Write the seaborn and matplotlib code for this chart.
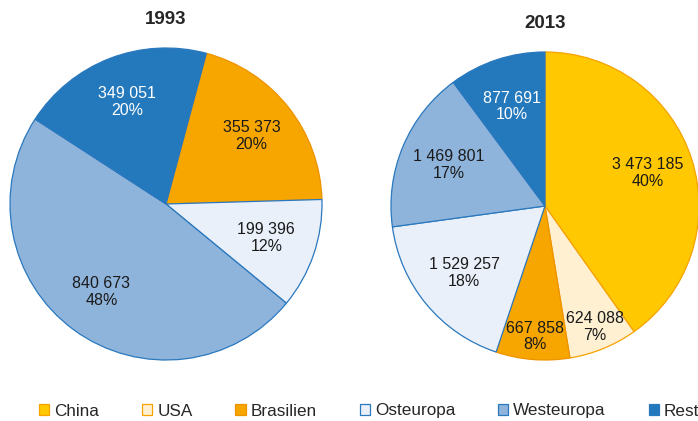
import numpy as np
import matplotlib
matplotlib.use("Agg")
import matplotlib.pyplot as plt
import matplotlib.patches as mpatches
import seaborn as sns

sns.set_style("white")
plt.rcParams['font.family'] = ['Liberation Sans', 'DejaVu Sans']

# data
regions = ["China", "USA", "Brasilien", "Osteuropa", "Westeuropa", "Rest"]
values_1993 = [0, 0, 355373, 199396, 840673, 349051]
values_2013 = [3473185, 624088, 667858, 1529257, 1469801, 877691]
pct_1993 = [0, 0, 20, 12, 48, 20]
pct_2013 = [40, 7, 8, 18, 17, 10]

fills = ["#FFC800", "#FFF0D2", "#F7A600", "#EAF0FA", "#8FB4DB", "#2479BD"]
edges = ["#F5A200", "#F5A200", "#EE9200", "#2A78BE", "#2A78BE", "#2A78BE"]
text_cols = ["#1a1a1a"] * 5 + ["white"]

W, H = 698, 421
fig = plt.figure(figsize=(W / 100, H / 100), dpi=100)


def draw_pie(cx, cy, r, vals, pcts, title, start):
    ax = fig.add_axes([(cx - r) / W, (H - cy - r) / H, 2 * r / W, 2 * r / H])
    wedges, _ = ax.pie(vals, colors=fills, startangle=start, counterclock=False,
                       radius=1, wedgeprops=dict(linewidth=0.9))
    for w, ec in zip(wedges, edges):
        w.set_edgecolor(ec)
    total = float(sum(vals))
    for w, v, p, tc in zip(wedges, vals, pcts, text_cols):
        if v == 0:
            continue
        mid = np.deg2rad((w.theta1 + w.theta2) / 2)
        share = v / total
        if share < 0.1:
            rr = 0.85
        elif share < 0.2:
            rr = 0.68
        else:
            rr = 0.7
        lab = f"{v:,}".replace(",", " ") + f"\n{p}%"
        ax.text(rr * np.cos(mid), rr * np.sin(mid), lab, ha="center", va="center",
                fontsize=11.5, color=tc, linespacing=1.15)
    ax.set_xlim(-1, 1)
    ax.set_ylim(-1, 1)
    ax.set_aspect("equal")
    ax.set_title(title, fontsize=13.5, fontweight="bold", pad=17)
    return ax


draw_pie(166, 204, 156, values_1993, pct_1993, "1993", 75)
draw_pie(545, 206, 154, values_2013, pct_2013, "2013", 90)

handles = [mpatches.Patch(facecolor=f, edgecolor=e, linewidth=0.9, label=n)
           for f, e, n in zip(fills, edges, regions)]
fig.legend(handles=handles, loc="center left", bbox_to_anchor=(39 / W, 1 - 411 / H),
           ncol=6, frameon=False, fontsize=12.3, handlelength=0.6, handleheight=0.6,
           handletextpad=0.3, columnspacing=2.5, borderpad=0, borderaxespad=0)

fig.savefig("out.png", dpi=100)
